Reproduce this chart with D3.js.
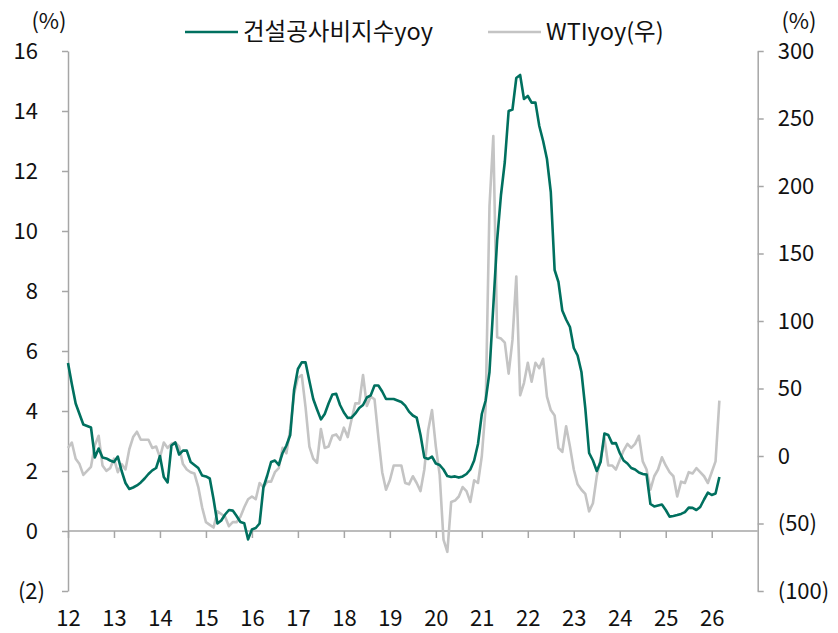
<!DOCTYPE html>
<html>
<head>
<meta charset="utf-8">
<script src="https://cdn.jsdelivr.net/npm/d3@7"></script>
<style>
  body { margin: 0; background: #fff; }
  svg text { font-family: "Noto Sans CJK KR", "Noto Sans", sans-serif; fill: #111; }
  .axis path, .axis line { stroke: #a6a6a6; stroke-width: 1.5; }
</style>
</head>
<body>
<svg id="chart" width="838" height="633"></svg>
<script>
// monthly data, Jan 2012 .. Mar 2026
var startYear = 2012;
var yearTicks = [2012, 2013, 2014, 2015, 2016, 2017, 2018, 2019, 2020, 2021, 2022, 2023, 2024, 2025, 2026];
var leftTicks = [-2, 0, 2, 4, 6, 8, 10, 12, 14, 16];
var rightTicks = [-100, -50, 0, 50, 100, 150, 200, 250, 300];
var seriesNames = ["건설공사비지수yoy", "WTIyoy(우)"];

// 건설공사비지수 yoy (%), left axis
var costYoy = [
  5.6, 4.9, 4.25, 3.9, 3.55, 3.5, 3.45, 2.45, 2.75, 2.45, 2.42, 2.35,
  2.3, 2.48, 2.0, 1.6, 1.4, 1.45, 1.52, 1.62, 1.75, 1.9, 2.02, 2.1,
  2.5, 1.8, 1.62, 2.85, 2.95, 2.55, 2.68, 2.68, 2.3, 2.2, 2.1, 1.85,
  1.82, 1.75, 1.05, 0.25, 0.35, 0.55, 0.7, 0.68, 0.5, 0.3, 0.26, -0.28,
  0.05, 0.1, 0.25, 1.45, 1.85, 2.3, 2.35, 2.2, 2.6, 2.85, 3.2, 4.7,
  5.4, 5.62, 5.62, 5.0, 4.4, 4.05, 3.72, 3.9, 4.25, 4.55, 4.57, 4.2,
  3.95, 3.77, 3.78, 3.92, 4.1, 4.2, 4.45, 4.52, 4.85, 4.85, 4.65, 4.4,
  4.4, 4.4, 4.35, 4.3, 4.18, 3.98, 3.85, 3.78, 3.2, 2.45, 2.4, 2.48,
  2.25, 2.2, 2.05, 1.83, 1.8, 1.82, 1.78, 1.82, 1.9, 2.05, 2.35, 2.9,
  3.9, 4.35, 5.3, 7.5, 9.7, 11.2, 12.3, 14.0, 14.05, 15.1, 15.2, 14.4,
  14.5, 14.28, 14.28, 13.5, 13.0, 12.4, 11.3, 8.7, 8.3, 7.35, 7.05, 6.8,
  6.1, 5.85, 5.3, 4.1, 2.6, 2.35, 2.0, 2.3, 3.25, 3.2, 2.92, 2.93,
  2.6, 2.35, 2.25, 2.1, 2.05, 1.95, 1.9, 1.88, 0.9, 0.82, 0.85, 0.88,
  0.7, 0.48, 0.5, 0.53, 0.57, 0.63, 0.78, 0.77, 0.7, 0.8, 1.05, 1.28,
  1.2, 1.25, 1.8
];

// WTI yoy (%), right axis
var wtiYoy = [
  6, 10, -2, -6, -14, -11, -8, 8, 15, -7, -11, -9,
  -2, -12, -6, -10, 5, 14, 18, 12, 12, 12, 6, 7,
  -1, 10, 6, 9, 10, 7, -6, -10, -12, -13, -23, -38,
  -49, -51, -53, -41, -43, -45, -52, -49, -49, -45, -38, -32,
  -30, -32, -20, -23, -19, -19, -12, -9, 6, 2, 20, 46,
  58, 60, 36, 7, -2, -5, 20, 6, 7, 15, 16, 12,
  21, 14, 27, 39, 39, 60, 37, 44, 42, 14, -12, -25,
  -18, -7, -7, -7, -20, -21, -15, -20, -26, -10, 19, 34,
  7, -14, -62, -71, -34, -33, -30, -23, -26, -34, -18, -20,
  0, 36, 185, 237, 88, 87, 84, 61, 86, 133, 45, 54,
  69, 55, 69, 65, 72, 44, 34, 30, 6, 3, 22, 7,
  -10, -21, -25, -28, -41, -35, -15, -2, 13, -7, -7, -10,
  -3, 4, 9, 6, 9, 15, -4, -10, -25, -15, -10, -1,
  -7, -12, -15, -30, -19, -20, -12, -13, -9, -12, -15, -20,
  -12, -4, 41
];

var green = "#00705f";
var gray = "#c4c4c4";

var svg = d3.select("#chart");

var plotLeft = 68, plotRight = 757.7, plotTop = 51, plotBottom = 591;

var xScale = d3.scaleLinear()
    .domain([startYear, 2027])
    .range([plotLeft, plotRight]);

var yLeft = d3.scaleLinear()
    .domain([-2, 16])
    .range([plotBottom, plotTop]);

var yRight = d3.scaleLinear()
    .domain([-100, 300])
    .range([plotBottom, plotTop]);

function paren(d) {
    return d < 0 ? "(" + (-d) + ")" : "" + d;
}

// left axis
var leftAxis = svg.append("g")
    .attr("class", "axis")
    .attr("transform", "translate(" + plotLeft + ",0)")
    .call(d3.axisLeft(yLeft).tickValues(leftTicks).tickFormat(paren)
        .tickSize(6).tickSizeOuter(0).tickPadding(17));
leftAxis.selectAll("text")
    .style("font-size", "22px")
    .attr("x", function (d) { return d < 0 ? -23 : -30; });

// right axis
var rightAxis = svg.append("g")
    .attr("class", "axis")
    .attr("transform", "translate(" + plotRight + ",0)")
    .call(d3.axisRight(yRight).tickValues(rightTicks).tickFormat(paren)
        .tickSize(6).tickSizeOuter(0).tickPadding(14));
rightAxis.selectAll("text").style("font-size", "22px");

// x axis on the zero line
var xAxis = svg.append("g")
    .attr("class", "axis")
    .attr("transform", "translate(0," + yLeft(0) + ")")
    .call(d3.axisBottom(xScale).tickValues(yearTicks)
        .tickFormat(function (d) { return d % 100; })
        .tickSize(7).tickSizeOuter(0).tickPadding(72));
xAxis.selectAll("text").style("font-size", "22px");
xAxis.select(".domain").attr("d", "M" + plotLeft + ",0H" + plotRight);
svg.selectAll(".axis .domain").style("fill", "none");

// unit labels
svg.append("text").attr("x", 49).attr("y", 21).attr("dy", "0.35em")
    .attr("text-anchor", "middle").style("font-size", "22px").text("(%)");
svg.append("text").attr("x", 799).attr("y", 21).attr("dy", "0.35em")
    .attr("text-anchor", "middle").style("font-size", "22px").text("(%)");

// lines
function monthX(d, i) {
    return xScale(startYear + i / 12);
}

var costLine = d3.line()
    .x(monthX)
    .y(function (d) { return yLeft(d); });

var wtiLine = d3.line()
    .x(monthX)
    .y(function (d) { return yRight(d); });

svg.append("path")
    .datum(wtiYoy)
    .attr("fill", "none")
    .attr("stroke", gray)
    .attr("stroke-width", 2.6)
    .attr("stroke-linejoin", "round")
    .attr("d", wtiLine);

svg.append("path")
    .datum(costYoy)
    .attr("fill", "none")
    .attr("stroke", green)
    .attr("stroke-width", 2.6)
    .attr("stroke-linejoin", "round")
    .attr("d", costLine);

// legend
var legendItems = [
    { name: seriesNames[0], color: green, x: 185 },
    { name: seriesNames[1], color: gray, x: 488 }
];

var legend = svg.selectAll(".legend")
    .data(legendItems)
    .enter()
    .append("g")
    .attr("class", "legend")
    .attr("transform", function (d) { return "translate(" + d.x + ",32)"; });

legend.append("line")
    .attr("x1", 0).attr("x2", 53)
    .attr("stroke", function (d) { return d.color; })
    .attr("stroke-width", 2.6);

legend.append("text")
    .attr("x", 58)
    .attr("dy", "0.35em")
    .style("font-size", "23.5px")
    .text(function (d) { return d.name; });
</script>
</body>
</html>
